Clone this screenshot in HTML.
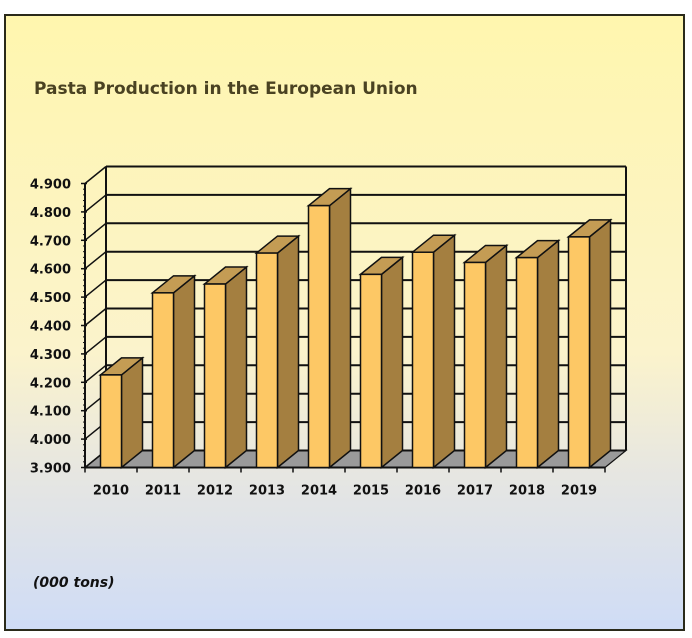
<!DOCTYPE html>
<html><head><meta charset="utf-8"><style>
html,body{margin:0;padding:0;background:#fff;}
svg{display:block;font-family:"DejaVu Sans","Liberation Sans",sans-serif;}
</style></head><body>
<svg id="chart" width="692" height="638" viewBox="0 0 692 638" xmlns="http://www.w3.org/2000/svg">
<defs>
<linearGradient id="bg" x1="0" y1="0" x2="0" y2="1">
<stop offset="0" stop-color="#fff6ae"/><stop offset="0.55" stop-color="#fbf3cc"/><stop offset="0.75" stop-color="#e6e6e2"/><stop offset="1" stop-color="#cfdcf6"/>
</linearGradient>
</defs>
<rect x="5" y="15" width="679" height="615" fill="url(#bg)" stroke="#2a2a1a" stroke-width="2"/>
<text x="34" y="94" font-size="17" font-weight="bold" fill="#4a4222">Pasta Production in the European Union</text>
<text x="33" y="587" font-size="14" font-weight="bold" font-style="italic" fill="#111">(000 tons)</text>
<g id="plot"></g>
</svg>
<script>
const categories=["2010","2011","2012","2013","2014","2015","2016","2017","2018","2019"];
const values=[4226,4515,4546,4655,4822,4580,4658,4622,4639,4712];
const yTicks=[3900,4000,4100,4200,4300,4400,4500,4600,4700,4800,4900];
const yTickLabels=["3.900","4.000","4.100","4.200","4.300","4.400","4.500","4.600","4.700","4.800","4.900"];

const X0=85,X1=605,Y0=467.5,Y1=183.5,DX=21,DY=-17,VMIN=3900,VMAX=4900;
function y(v){return Y0-(v-VMIN)/(VMAX-VMIN)*(Y0-Y1);}
const band=(X1-X0)/categories.length;
function xc(i){return X0+band*(i+0.5);}
const NS="http://www.w3.org/2000/svg";
const g=document.getElementById('plot');
function el(t,a,parent){const e=document.createElementNS(NS,t);for(const k in a)e.setAttribute(k,a[k]);(parent||g).appendChild(e);return e;}
function pts(a){return a.map(p=>p.join(',')).join(' ');}

// floor
let floor=el('polygon',{points:pts([[X0,Y0],[X1,Y0],[X1+DX,Y0+DY],[X0+DX,Y0+DY]]),fill:'#9a9a9a',stroke:'#111','stroke-width':1.2});


// back wall gridlines and side wall diagonals
yTicks.forEach((v,i)=>{
  const yy=y(v);
  const gl=el('line',{x1:X0+DX,y1:yy+DY,x2:X1+DX,y2:yy+DY,stroke:'#111','stroke-width':2});
  
  
  const dg=el('line',{x1:X0,y1:yy,x2:X0+DX,y2:yy+DY,stroke:'#111','stroke-width':1.5});
  
  
  const tk=el('line',{x1:X0-4,y1:yy,x2:X0+2,y2:yy,stroke:'#111','stroke-width':1.5});
  
  
  const lb=el('text',{x:X0-14,y:yy+5,'text-anchor':'end','font-size':13,'font-weight':'bold',fill:'#111'});
  lb.textContent=yTickLabels[i];
  
  
});
// minor ticks
for(let k=0;k<50;k++){const yy=Y0-(Y0-Y1)*k/50;const m=el('line',{x1:X0-2,y1:yy,x2:X0,y2:yy,stroke:'#111','stroke-width':1});

}
// walls edges
const wl=el('line',{x1:X0+DX,y1:Y0+DY,x2:X0+DX,y2:Y1+DY,stroke:'#111','stroke-width':2});


const wr=el('line',{x1:X1+DX,y1:Y0+DY,x2:X1+DX,y2:Y1+DY,stroke:'#111','stroke-width':2});


const ya=el('line',{x1:X0,y1:Y0,x2:X0,y2:Y1,stroke:'#111','stroke-width':2});


const xa=el('line',{x1:X0,y1:Y0,x2:X1,y2:Y0,stroke:'#111','stroke-width':2});


for(let i=0;i<=categories.length;i++){const t=el('line',{x1:X0+band*i,y1:Y0,x2:X0+band*i,y2:Y0+5,stroke:'#111','stroke-width':1.5});

}
// bars
const BW=21;
categories.forEach((c,i)=>{
  const x=xc(i)-BW/2, yt=y(values[i]);
  const bg=el('g',{});
  
  
  el('polygon',{points:pts([[x+BW,yt],[x+BW+DX,yt+DY],[x+BW+DX,Y0+DY],[x+BW,Y0]]),fill:'#a47f40',stroke:'#111','stroke-width':1.5},bg);
  el('polygon',{points:pts([[x,yt],[x+DX,yt+DY],[x+BW+DX,yt+DY],[x+BW,yt]]),fill:'#c49c54',stroke:'#111','stroke-width':1.5},bg);
  el('rect',{x:x,y:yt,width:BW,height:Y0-yt,fill:'#fdc865',stroke:'#111','stroke-width':1.5},bg);
  const lb=el('text',{x:xc(i),y:Y0+27,'text-anchor':'middle','font-size':13,'font-weight':'bold',fill:'#111'});
  lb.textContent=c;
  
  
});
</script>
</body></html>
